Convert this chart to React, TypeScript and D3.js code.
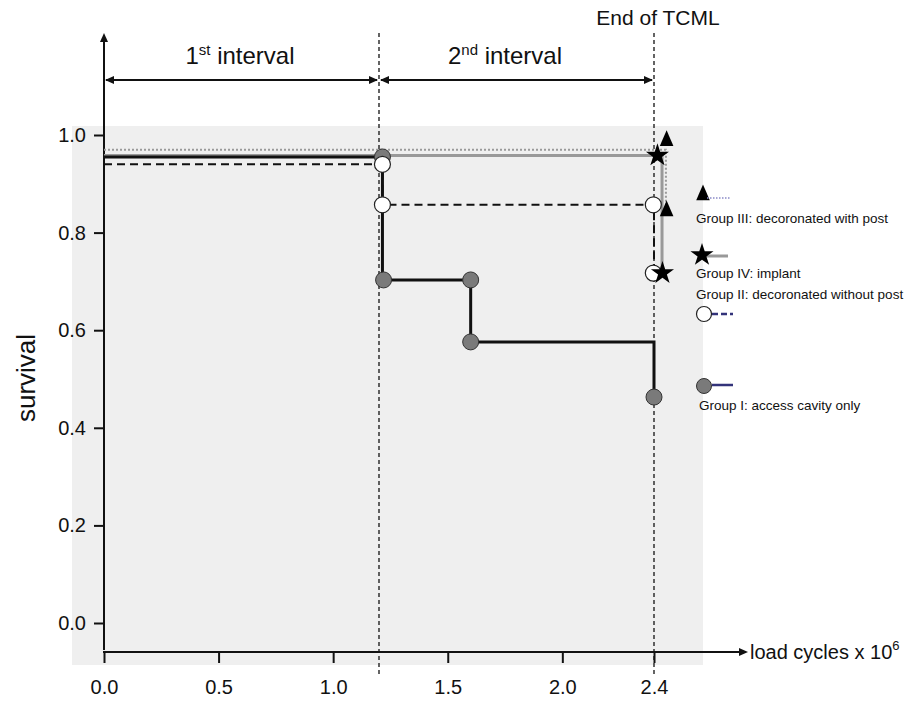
import React, { useEffect, useRef } from "react";
import * as d3 from "d3";

// Kaplan-Meier style survival steps
const groupITimes = [0, 1.215, 1.6, 2.4];
const groupISurv = [0.955, 0.703, 0.576, 0.463];
const groupIMarkX = [1.215, 1.22, 1.6, 1.6, 2.4];
const groupIMarkY = [0.955, 0.703, 0.703, 0.576, 0.463];

const groupIITimes = [0, 1.215, 2.4];
const groupIISurv = [0.94, 0.857, 0.717];
const groupIIMarkX = [1.215, 1.215, 2.397, 2.397];
const groupIIMarkY = [0.94, 0.857, 0.857, 0.717];

const groupIIITimes = [0, 2.452];
const groupIIISurv = [0.97, 0.838];
const groupIIIMarkX = [2.455, 2.455];
const groupIIIMarkY = [0.982, 0.838];

const groupIVTimes = [0, 2.435];
const groupIVSurv = [0.958, 0.717];
const groupIVMarkX = [2.415, 2.437];
const groupIVMarkY = [0.958, 0.717];

const xTicks = [0, 0.5, 1.0, 1.5, 2.0, 2.4];
const yTicks = [0, 0.2, 0.4, 0.6, 0.8, 1.0];
const intervalBounds = [0, 1.2, 2.4];

const font = "'Liberation Sans', Arial, Helvetica, sans-serif";

const zip = (a: number[], b: number[]) => a.map((v, i) => [v, b[i]] as [number, number]);

export default function App() {
  const xAxisRef = useRef<SVGGElement>(null);
  const yAxisRef = useRef<SVGGElement>(null);

  const width = 919;
  const height = 702;
  const x = d3.scaleLinear().domain([0, 2.4]).range([104, 654]);
  const y = d3.scaleLinear().domain([0, 1]).range([623, 135]);
  const axisY = 652;
  const arrowY = 80;

  useEffect(() => {
    const xAxis = d3
      .axisBottom(x)
      .tickValues(xTicks)
      .tickSize(11)
      .tickPadding(17)
      .tickFormat(d3.format(".1f"));
    const gx = d3.select(xAxisRef.current);
    gx.attr("transform", `translate(0, ${axisY})`).call(xAxis);
    gx.select(".domain").remove();
    gx.selectAll(".tick line").attr("stroke", "#111").attr("stroke-width", 2);
    gx.selectAll(".tick text")
      .attr("font-size", 20)
      .attr("font-family", font)
      .attr("fill", "#111");

    const yAxis = d3
      .axisLeft(y)
      .tickValues(yTicks)
      .tickSize(10)
      .tickPadding(8)
      .tickFormat(d3.format(".1f"));
    const gy = d3.select(yAxisRef.current);
    gy.attr("transform", `translate(104, 0)`).call(yAxis);
    gy.select(".domain").remove();
    gy.selectAll(".tick line").attr("stroke", "#111").attr("stroke-width", 2);
    gy.selectAll(".tick text")
      .attr("font-size", 20)
      .attr("font-family", font)
      .attr("fill", "#111");
  }, []);

  const step = d3
    .line<[number, number]>()
    .x((d) => x(d[0]))
    .y((d) => y(d[1]))
    .curve(d3.curveStepAfter);

  const star = d3.symbol().type(d3.symbolStar).size(165)();
  const tri = d3.symbol().type(d3.symbolTriangle).size(80)();

  const arrowHead = (px: number, py: number, dir: number, vertical = false) => {
    const l = 9;
    const w = 4;
    if (vertical) {
      return `M${px},${py} L${px - w},${py + l * dir} L${px + w},${py + l * dir} Z`;
    }
    return `M${px},${py} L${px + l * dir},${py - w} L${px + l * dir},${py + w} Z`;
  };

  return (
    <svg
      width={width}
      height={height}
      style={{ position: "absolute", left: 0, top: 0, background: "#fff" }}
    >
      <rect x={72} y={126} width={631} height={539} fill="#efefef" />

      {/* interval guides */}
      {intervalBounds.slice(1).map((b) => (
        <line
          key={b}
          x1={x(b)}
          x2={x(b)}
          y1={33}
          y2={675}
          stroke="#111"
          strokeWidth={1.3}
          strokeDasharray="4,3"
        />
      ))}

      {/* interval arrows */}
      {d3.pairs(intervalBounds).map(([a, b], i) => (
        <g key={i}>
          <line x1={x(a) + 2} x2={x(b) - 2} y1={arrowY} y2={arrowY} stroke="#111" strokeWidth={2} />
          <path d={arrowHead(x(a) + 1, arrowY, 1)} fill="#111" />
          <path d={arrowHead(x(b) - 1, arrowY, -1)} fill="#111" />
        </g>
      ))}
      <text x={240} y={64} fontSize={24} fontFamily={font} textAnchor="middle" fill="#111">
        1<tspan fontSize={15} dy={-9}>st</tspan>
        <tspan dy={9}> interval</tspan>
      </text>
      <text x={505} y={64} fontSize={24} fontFamily={font} textAnchor="middle" fill="#111">
        2<tspan fontSize={15} dy={-9}>nd</tspan>
        <tspan dy={9}> interval</tspan>
      </text>
      <text x={658} y={25} fontSize={21} fontFamily={font} textAnchor="middle" fill="#111">
        End of TCML
      </text>

      {/* axes lines with arrows */}
      <line x1={104} x2={104} y1={axisY - 2} y2={38} stroke="#111" strokeWidth={2} />
      <path d={arrowHead(104, 33, 1, true)} fill="#111" />
      <line x1={103} x2={742} y1={axisY} y2={axisY} stroke="#111" strokeWidth={2} />
      <path d={arrowHead(748, axisY, -1)} fill="#111" />
      <g ref={xAxisRef} />
      <g ref={yAxisRef} />
      <text x={750} y={659} fontSize={20} fontFamily={font} fill="#111">
        load cycles x 10<tspan fontSize={13} dy={-9}>6</tspan>
      </text>
      <text
        transform="translate(35, 378) rotate(-90)"
        fontSize={26}
        fontFamily={font}
        textAnchor="middle"
        fill="#111"
      >
        survival
      </text>

      {/* survival curves */}
      <path
        d={step(zip(groupIIITimes, groupIIISurv)) || ""}
        fill="none"
        stroke="#9a9a9a"
        strokeWidth={2}
        strokeDasharray="2,2"
      />
      <path
        d={step(zip(groupIVTimes, groupIVSurv)) || ""}
        fill="none"
        stroke="#999"
        strokeWidth={3}
      />
      <path
        d={step(zip(groupIITimes, groupIISurv)) || ""}
        fill="none"
        stroke="#111"
        strokeWidth={2}
        strokeDasharray="8,5"
      />
      <path
        d={step(zip(groupITimes, groupISurv)) || ""}
        fill="none"
        stroke="#111"
        strokeWidth={3}
      />

      {/* markers */}
      {zip(groupIMarkX, groupIMarkY).map(([a, b], i) => (
        <circle key={"g1" + i} cx={x(a)} cy={y(b)} r={8} fill="#7a7a7a" stroke="#333" strokeWidth={1} />
      ))}
      {zip(groupIIMarkX, groupIIMarkY).map(([a, b], i) => (
        <circle key={"g2" + i} cx={x(a)} cy={y(b)} r={8} fill="#fff" stroke="#222" strokeWidth={1.2} />
      ))}
      {zip(groupIIIMarkX, groupIIIMarkY).map(([a, b], i) => (
        <path
          key={"g3" + i}
          d={tri || ""}
          transform={`translate(${x(a)}, ${y(b) - 3}) scale(1, 1.35)`}
          fill="#000"
        />
      ))}
      {zip(groupIVMarkX, groupIVMarkY).map(([a, b], i) => (
        <path key={"g4" + i} d={star || ""} transform={`translate(${x(a)}, ${y(b)})`} fill="#000" />
      ))}

      {/* legend */}
      <g fontFamily={font} fontSize={13.5} fill="#111">
        <path d={tri || ""} transform="translate(703, 195) scale(1, 1.35)" fill="#000" />
        <line x1={707} x2={731} y1={198} y2={198} stroke="#8a8ac8" strokeWidth={1.5} strokeDasharray="1.5,1.5" />
        <text x={696} y={223}>Group III: decoronated with post</text>

        <line x1={704} x2={728} y1={256} y2={256} stroke="#999" strokeWidth={3} />
        <path d={star || ""} transform="translate(702, 255)" fill="#000" />
        <text x={696} y={278}>Group IV: implant</text>

        <text x={696} y={299}>Group II: decoronated without post</text>
        <line x1={712} x2={733} y1={314} y2={314} stroke="#33337a" strokeWidth={2.5} strokeDasharray="6,3" />
        <circle cx={704} cy={314} r={7.5} fill="#fff" stroke="#222" strokeWidth={1.2} />

        <line x1={712} x2={733} y1={385} y2={385} stroke="#33337a" strokeWidth={2.5} />
        <circle cx={704} cy={386} r={7.5} fill="#7a7a7a" stroke="#333" strokeWidth={1} />
        <text x={699} y={410}>Group I: access cavity only</text>
      </g>
    </svg>
  );
}
